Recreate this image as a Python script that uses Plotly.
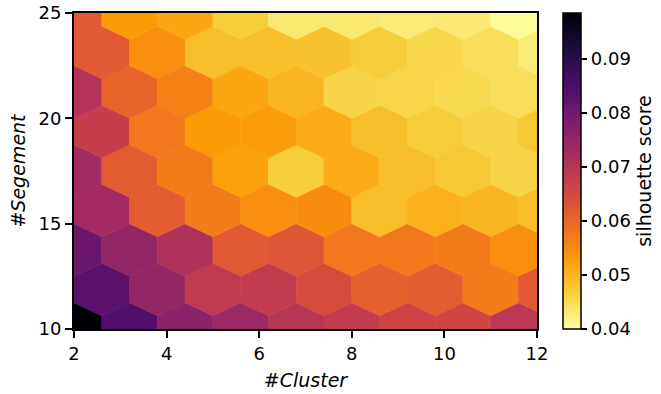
import plotly.graph_objects as go
from plotly.colors import sample_colorscale

# ---- data: hexbin bin centres and mean silhouette score per bin ----
x_even = [2.0, 3.2, 4.4, 5.6, 6.8, 8.0, 9.2, 10.4, 11.6]
x_odd = [2.6, 3.8, 5.0, 6.2, 7.4, 8.6, 9.8, 11.0, 12.2]
y_rows = [10.0, 11.875, 13.75, 15.625, 17.5, 19.375, 21.25, 23.125, 25.0]

score_row0 = [0.0985, 0.0845, 0.0763, 0.0739, 0.0698, 0.0681, 0.0663, 0.0657, 0.0693]
score_row1 = [0.0833, 0.0751, 0.0687, 0.0681, 0.0646, 0.0611, 0.0616, 0.0570, 0.0622]
score_row2 = [0.0810, 0.0751, 0.0710, 0.0622, 0.0628, 0.0576, 0.0574, 0.0570, 0.0546]
score_row3 = [0.0728, 0.0616, 0.0570, 0.0546, 0.0548, 0.0488, 0.0505, 0.0499, 0.0488]
score_row4 = [0.0730, 0.0618, 0.0570, 0.0523, 0.0468, 0.0511, 0.0488, 0.0476, 0.0459]
score_row5 = [0.0675, 0.0576, 0.0529, 0.0528, 0.0511, 0.0488, 0.0470, 0.0459, 0.0476]
score_row6 = [0.0704, 0.0605, 0.0564, 0.0517, 0.0499, 0.0459, 0.0458, 0.0453, 0.0447]
score_row7 = [0.0622, 0.0546, 0.0488, 0.0487, 0.0483, 0.0470, 0.0456, 0.0447, 0.0429]
score_row8 = [0.0622, 0.0529, 0.0517, 0.0470, 0.0432, 0.0432, 0.0429, 0.0430, 0.0406]
score_rows = [score_row0, score_row1, score_row2, score_row3, score_row4,
              score_row5, score_row6, score_row7, score_row8]

x_ticks = [2, 4, 6, 8, 10, 12]
y_ticks = [10, 15, 20, 25]
cbar_ticks = [0.04, 0.05, 0.06, 0.07, 0.08, 0.09]

VMIN, VMAX = 0.04, 0.0985
SX, SY = 1.2, 3.75          # hexbin cell size in data units
CSCALE = "Inferno_r"
FONT = "DejaVu Sans"

hex_dx = [0.5, 0.5, 0.0, -0.5, -0.5, 0.0, 0.5]
hex_dy = [-0.5, 0.5, 1.0, 0.5, -0.5, -1.0, -0.5]

fig = go.Figure()
for r, (yc, vals) in enumerate(zip(y_rows, score_rows)):
    xs_c = x_even if r % 2 == 0 else x_odd
    for xc, v in zip(xs_c, vals):
        t = (v - VMIN) / (VMAX - VMIN)
        t = min(max(t, 0.0), 1.0)
        col = sample_colorscale(CSCALE, [t])[0]
        fig.add_trace(go.Scatter(
            x=[xc + SX * d for d in hex_dx],
            y=[yc + SY / 3 * d for d in hex_dy],
            mode="lines", fill="toself", fillcolor=col,
            line=dict(color=col, width=0.6),
            hoverinfo="skip", showlegend=False))

fig.add_trace(go.Scatter(
    x=[None, None], y=[None, None], mode="markers", showlegend=False,
    marker=dict(color=[VMIN, VMAX], cmin=VMIN, cmax=VMAX, colorscale=CSCALE,
                showscale=True,
                colorbar=dict(
                    thickness=18, len=1, lenmode="fraction", y=0.5, yanchor="middle",
                    ypad=0, x=1.0567, xanchor="left", xpad=0,
                    outlinewidth=1.5, outlinecolor="black",
                    tickvals=cbar_ticks, tickformat=".2f", ticks="outside",
                    ticklen=6, tickwidth=1.5, tickcolor="black",
                    tickfont=dict(family=FONT, size=18, color="black"),
                    title=dict(text="silhouette score", side="right",
                               font=dict(family=FONT, size=19, color="black")),
                ))))

axis_common = dict(showgrid=False, zeroline=False, showline=True, linecolor="black",
                   linewidth=2, mirror=True, ticks="outside", ticklen=7, tickwidth=1.5,
                   tickcolor="black", tickfont=dict(family=FONT, size=18, color="black"))

fig.update_xaxes(range=[2, 12], tickvals=x_ticks,
                 title=dict(text="#<i>Cluster</i>", standoff=11,
                            font=dict(family=FONT, size=19, color="black")),
                 **axis_common)
fig.update_yaxes(range=[10, 25], tickvals=y_ticks,
                 title=dict(text="#<i>Segement</i>", standoff=8,
                            font=dict(family=FONT, size=19, color="black")),
                 **axis_common)

fig.update_layout(width=661, height=394,
                  margin=dict(l=74, r=124, t=13, b=65, autoexpand=False),
                  plot_bgcolor="white", paper_bgcolor="white",
                  font=dict(family=FONT, color="black"))

fig.write_html("out.html")
